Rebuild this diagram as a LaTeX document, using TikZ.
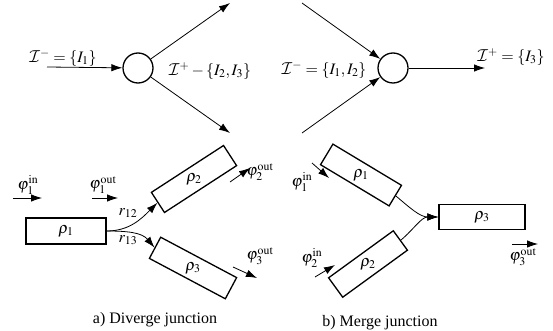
\documentclass[tikz,border=0pt]{standalone}
\usepackage{mathptmx}
\DeclareMathAlphabet{\mathcal}{OMS}{cmsy}{m}{n}
\usepackage[no-math]{fontspec}
\setmainfont{Liberation Serif}
\usetikzlibrary{arrows.meta}
\begin{document}
\begin{tikzpicture}[x=1pt,y=1pt,font=\fontsize{16}{19}\selectfont,
  box/.style={draw,line width=1.3pt,minimum width=86pt,minimum height=24pt,inner sep=0pt},
  junc/.style={circle,draw,line width=1.3pt,minimum size=30pt,inner sep=0pt},
  arr/.style={-{Latex[length=11pt,width=7.5pt]},line width=0.8pt},
  lbl/.style={inner sep=0pt}]
\useasboundingbox (0,0) rectangle (553,-331);
% ---- top left: diverge junction node
\coordinate (inL) at (47,-67);
\node[junc] (J1) at (138,-68) {};
\coordinate (o1) at (230,-3);
\coordinate (o2) at (230,-133);
\draw[arr] (inL) -- (J1);
\draw[arr] (J1) -- (o1);
\draw[arr] (J1) -- (o2);
\node[lbl] (t1) at (63,-58) {$\mathcal{I}^-=\{I_1\}$};
\node[lbl] (t2) at (210,-71) {$\mathcal{I}^+-\{I_2,I_3\}$};
% ---- top right: merge junction node
\coordinate (i1) at (302,-3);
\coordinate (i2) at (302,-133);
\node[junc] (J2) at (393,-68) {};
\coordinate (oR) at (485,-68);
\draw[arr] (i1) -- (J2);
\draw[arr] (i2) -- (J2);
\draw[arr] (J2) -- (oR);
\node[lbl] (t3) at (324,-70) {$\mathcal{I}^-=\{I_1,I_2\}$};
\node[lbl] (t4) at (511,-57) {$\mathcal{I}^+=\{I_3\}$};
% ---- bottom left: diverge
\node[box,minimum width=80pt,minimum height=26pt] (a1) at (66,-231) {};
\node[lbl] (a1t) at (a1.center) {$\rho_1$};
\node[box,rotate=33] (a2) at (194,-179) {};
\node[lbl] (a2t) at (a2.center) {$\rho_2$};
\node[box,rotate=-28] (a3) at (193,-268) {};
\node[lbl] (a3t) at (a3.center) {$\rho_3$};
\draw[arr] (a1.east) to[out=0,in=225] (a2.west);
\draw[arr] (a1.east) to[out=0,in=130] (a3.west);
\node[lbl] (r12) at (128,-213) {$r_{12}$};
\node[lbl] (r13) at (128,-240) {$r_{13}$};
\node[lbl] (f1i) at (28,-185) {$\varphi_1^{\mathrm{in}}$};
\coordinate (f1ia) at (13,-198); \coordinate (f1ib) at (42,-198);
\draw[arr] (f1ia) -- (f1ib);
\node[lbl] (f1o) at (103,-185) {$\varphi_1^{\mathrm{out}}$};
\coordinate (f1oa) at (92,-198); \coordinate (f1ob) at (118,-198);
\draw[arr] (f1oa) -- (f1ob);
\node[lbl] (f2o) at (260,-172) {$\varphi_2^{\mathrm{out}}$};
\coordinate (f2oa) at (230,-182); \coordinate (f2ob) at (250,-168);
\draw[arr] (f2oa) -- (f2ob);
\node[lbl] (f3o) at (260,-256) {$\varphi_3^{\mathrm{out}}$};
\coordinate (f3oa) at (233,-267); \coordinate (f3ob) at (257,-278);
\draw[arr] (f3oa) -- (f3ob);
\node[lbl] (capA) at (155,-320) {a) Diverge junction};
% ---- bottom right: merge
\node[box,minimum width=80pt,rotate=-31] (b1) at (361,-175) {};
\node[lbl] (b1t) at (b1.center) {$\rho_1$};
\node[box,minimum width=80pt,rotate=36] (b2) at (368,-264) {};
\node[lbl] (b2t) at (b2.center) {$\rho_2$};
\node[box,minimum height=25pt] (b3) at (482,-217) {};
\node[lbl] (b3t) at (b3.center) {$\rho_3$};
\draw[arr] (b1.east) to[out=-40,in=180] (b3.west);
\draw[arr] (b2.east) to[out=40,in=180] (b3.west);
\node[lbl] (g1i) at (302,-182) {$\varphi_1^{\mathrm{in}}$};
\coordinate (g1ia) at (312,-163); \coordinate (g1ib) at (329,-178);
\draw[arr] (g1ia) -- (g1ib);
\node[lbl] (g2i) at (312,-258) {$\varphi_2^{\mathrm{in}}$};
\coordinate (g2ia) at (315,-277); \coordinate (g2ib) at (335,-265);
\draw[arr] (g2ia) -- (g2ib);
\node[lbl] (g3o) at (523,-257) {$\varphi_3^{\mathrm{out}}$};
\coordinate (g3oa) at (512,-244); \coordinate (g3ob) at (538,-244);
\draw[arr] (g3oa) -- (g3ob);
\node[lbl] (capB) at (380,-323) {b) Merge junction};
\end{tikzpicture}
\end{document}
